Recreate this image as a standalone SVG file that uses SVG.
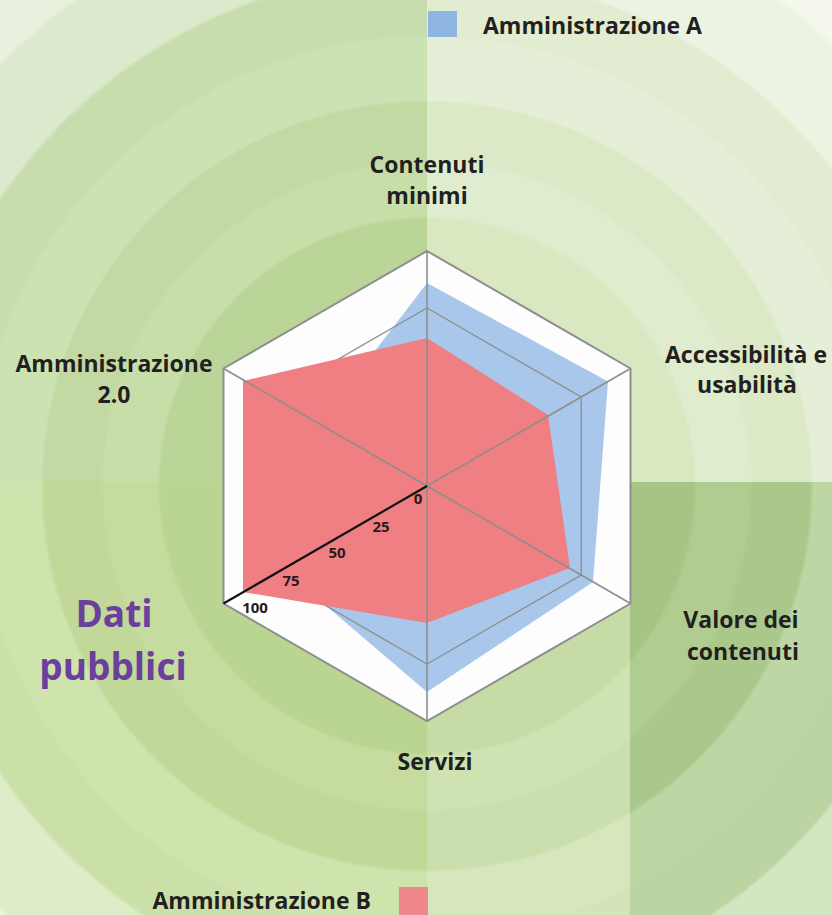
<svg xmlns="http://www.w3.org/2000/svg" width="832" height="915" viewBox="0 0 832 915">
<defs>
<style>
.lbl{font-family:"Open Sans","Liberation Sans",sans-serif;font-weight:700;font-size:23px;fill:#231f20;text-anchor:middle}
.num{font-family:"Open Sans","Liberation Sans",sans-serif;font-weight:700;font-size:15px;fill:#2a1a1a;text-anchor:middle}
.title{font-family:"Open Sans","Liberation Sans",sans-serif;font-weight:700;font-size:37px;fill:#6c3f9c;text-anchor:middle}
.spoke{stroke:#8e8e8e;stroke-width:1.6;fill:none}
.ring{stroke:#8e8e8e;stroke-width:1.3;fill:none}
</style>
<radialGradient id="gUL" gradientUnits="userSpaceOnUse" cx="427" cy="486" r="720">
<stop offset="0" stop-color="#bad597"/><stop offset="0.37" stop-color="#bad597"/>
<stop offset="0.375" stop-color="#c8dea9"/><stop offset="0.448" stop-color="#c8dea9"/>
<stop offset="0.453" stop-color="#c2d9a3"/><stop offset="0.532" stop-color="#c2d9a3"/>
<stop offset="0.537" stop-color="#cde2b3"/><stop offset="0.622" stop-color="#cde2b3"/>
<stop offset="0.627" stop-color="#c8ddad"/><stop offset="0.712" stop-color="#c8ddad"/>
<stop offset="0.717" stop-color="#dde9cc"/><stop offset="0.83" stop-color="#dde9cc"/>
<stop offset="0.836" stop-color="#e8f0de"/><stop offset="1" stop-color="#eef4e6"/>
</radialGradient>
<radialGradient id="gUR" gradientUnits="userSpaceOnUse" cx="427" cy="486" r="720">
<stop offset="0" stop-color="#d9e8c1"/><stop offset="0.37" stop-color="#d9e8c1"/>
<stop offset="0.375" stop-color="#e0ecce"/><stop offset="0.448" stop-color="#e0ecce"/>
<stop offset="0.453" stop-color="#dce9c7"/><stop offset="0.532" stop-color="#dce9c7"/>
<stop offset="0.537" stop-color="#e5efd7"/><stop offset="0.622" stop-color="#e5efd7"/>
<stop offset="0.627" stop-color="#e1ecd1"/><stop offset="0.712" stop-color="#e1ecd1"/>
<stop offset="0.717" stop-color="#edf3e3"/><stop offset="0.83" stop-color="#edf3e3"/>
<stop offset="0.836" stop-color="#f3f7ec"/><stop offset="1" stop-color="#f6f9f1"/>
</radialGradient>
<radialGradient id="gLL" gradientUnits="userSpaceOnUse" cx="427" cy="486" r="720">
<stop offset="0" stop-color="#bad592"/><stop offset="0.37" stop-color="#bad592"/>
<stop offset="0.375" stop-color="#c6dc9e"/><stop offset="0.448" stop-color="#c6dc9e"/>
<stop offset="0.453" stop-color="#c1d899"/><stop offset="0.532" stop-color="#c1d899"/>
<stop offset="0.537" stop-color="#cfe3ad"/><stop offset="0.622" stop-color="#cfe3ad"/>
<stop offset="0.627" stop-color="#cbe0a9"/><stop offset="0.712" stop-color="#cbe0a9"/>
<stop offset="0.717" stop-color="#dfecc8"/><stop offset="0.83" stop-color="#dfecc8"/>
<stop offset="0.836" stop-color="#eaf2dc"/><stop offset="1" stop-color="#f0f6e6"/>
</radialGradient>
<radialGradient id="gLRi" gradientUnits="userSpaceOnUse" cx="427" cy="486" r="720">
<stop offset="0" stop-color="#c6dba6"/><stop offset="0.37" stop-color="#c6dba6"/>
<stop offset="0.375" stop-color="#cfe2b2"/><stop offset="0.448" stop-color="#cfe2b2"/>
<stop offset="0.453" stop-color="#cadfad"/><stop offset="0.532" stop-color="#cadfad"/>
<stop offset="0.537" stop-color="#d6e7bd"/><stop offset="0.622" stop-color="#d6e7bd"/>
<stop offset="0.627" stop-color="#d2e4b8"/><stop offset="0.712" stop-color="#d2e4b8"/>
<stop offset="0.717" stop-color="#e3eed2"/><stop offset="1" stop-color="#eaf2de"/>
</radialGradient>
<radialGradient id="gLRo" gradientUnits="userSpaceOnUse" cx="427" cy="486" r="720">
<stop offset="0" stop-color="#a6c584"/><stop offset="0.37" stop-color="#a6c584"/>
<stop offset="0.375" stop-color="#b0cc90"/><stop offset="0.448" stop-color="#b0cc90"/>
<stop offset="0.453" stop-color="#aac88b"/><stop offset="0.532" stop-color="#aac88b"/>
<stop offset="0.537" stop-color="#bdd6a3"/><stop offset="0.622" stop-color="#bdd6a3"/>
<stop offset="0.627" stop-color="#bbd4a1"/><stop offset="0.712" stop-color="#bbd4a1"/>
<stop offset="0.717" stop-color="#d4e5c2"/><stop offset="0.83" stop-color="#d4e5c2"/>
<stop offset="0.836" stop-color="#e2edd5"/><stop offset="1" stop-color="#e9f2de"/>
</radialGradient>
</defs>

<g id="background">
<rect x="0" y="0" width="427" height="482" fill="url(#gUL)"/>
<rect x="427" y="0" width="405" height="482" fill="url(#gUR)"/>
<rect x="0" y="482" width="427" height="433" fill="url(#gLL)"/>
<rect x="427" y="482" width="203" height="433" fill="url(#gLRi)"/>
<rect x="630" y="482" width="202" height="433" fill="url(#gLRo)"/>
</g>

<g id="chart">
<polygon id="plot-area" points="427,251 630.5,368.5 630.5,603.5 427,721 223.5,603.5 223.5,368.5" fill="#fdfdfd"/>
<polygon id="series-a" points="427,283 608,381.5 593,582 427,692 283,569 319,424" fill="#a8c7ea"/>
<g id="grid-rings">
<polygon class="ring" points="427,308 581.2,397 581.2,575 427,664 272.8,575 272.8,397"/>
<polygon class="ring" points="427,368.5 528.8,427.3 528.8,544.8 427,603.5 325.2,544.8 325.2,427.3"/>
<polygon class="ring" points="427,427.3 477.9,456.6 477.9,515.4 427,544.8 376.1,515.4 376.1,456.6"/>
</g>
<polygon id="series-b" points="427,338 548,415 570,568 427,623 243,592 243,381" fill="#f07f83"/>
</g>

<g id="connectors">
<line class="spoke" x1="427" y1="486" x2="427" y2="251"/>
<line class="spoke" x1="427" y1="486" x2="630.5" y2="368.5"/>
<line class="spoke" x1="427" y1="486" x2="630.5" y2="603.5"/>
<line class="spoke" x1="427" y1="486" x2="427" y2="721"/>
<line class="spoke" x1="427" y1="486" x2="223.5" y2="368.5"/>
<polygon points="427,251 630.5,368.5 630.5,603.5 427,721 223.5,603.5 223.5,368.5" fill="none" stroke="#8e8e8e" stroke-width="2"/>
<line x1="427" y1="486" x2="223.5" y2="603.5" stroke="#111" stroke-width="2.2"/>
</g>

<g id="scale">
<text class="num" x="418" y="504">0</text>
<text class="num" x="381" y="532">25</text>
<text class="num" x="337" y="558">50</text>
<text class="num" x="291" y="586">75</text>
<text class="num" x="255" y="613">100</text>
</g>

<g id="axis-contenuti-minimi"><text class="lbl" x="427" y="173">Contenuti</text><text class="lbl" x="427" y="204">minimi</text></g>
<g id="axis-accessibilita"><text class="lbl" x="746" y="363">Accessibilità e</text><text class="lbl" x="747" y="393">usabilità</text></g>
<g id="axis-valore"><text class="lbl" x="741" y="628">Valore dei</text><text class="lbl" x="743" y="660">contenuti</text></g>
<g id="axis-servizi"><text class="lbl" x="435" y="770">Servizi</text></g>
<g id="axis-dati-pubblici"><text class="title" x="114" y="627">Dati</text><text class="title" x="113" y="680">pubblici</text></g>
<g id="axis-amministrazione"><text class="lbl" x="114" y="372">Amministrazione</text><text class="lbl" x="114" y="403">2.0</text></g>

<g id="legend-a">
<rect x="428" y="11" width="29" height="26" fill="#8fb5e3"/>
<text class="lbl" x="483" y="34" style="text-anchor:start">Amministrazione A</text>
</g>
<g id="legend-b">
<rect x="399" y="887" width="29" height="28" fill="#f0878c"/>
<text class="lbl" x="371" y="909" style="text-anchor:end">Amministrazione B</text>
</g>
</svg>
